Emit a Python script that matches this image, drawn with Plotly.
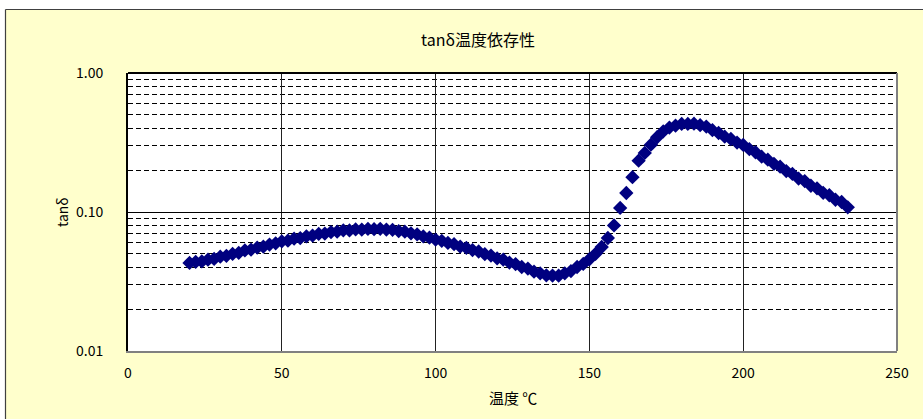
import plotly.graph_objects as go

# ---- data ----
temperature = [20, 22, 24, 26, 28, 30, 32, 34, 36, 38, 40, 42, 44, 46, 48, 50,
               52, 54, 56, 58, 60, 62, 64, 66, 68, 70, 72, 74, 76, 78, 80, 82,
               84, 86, 88, 90, 92, 94, 96, 98, 100, 102, 104, 106, 108, 110, 112,
               114, 116, 118, 120, 122, 124, 126, 128, 130, 132, 134, 136, 138,
               140, 142, 144, 146, 148, 150, 152, 154, 156, 158, 160, 162, 164,
               166, 168, 170, 172, 174, 176, 178, 180, 182, 184, 186, 188, 190,
               192, 194, 196, 198, 200, 202, 204, 206, 208, 210, 212, 214, 216,
               218, 220, 222, 224, 226, 228, 230, 232, 234]
tan_delta = [0.0430, 0.0437, 0.0441, 0.0454, 0.0460, 0.0477, 0.0484, 0.0499,
             0.0508, 0.0529, 0.0536, 0.0554, 0.0563, 0.0583, 0.0595, 0.0615,
             0.0622, 0.0643, 0.0649, 0.0668, 0.0677, 0.0695, 0.0700, 0.0717,
             0.0722, 0.0738, 0.0737, 0.0749, 0.0747, 0.0756, 0.0752, 0.0757,
             0.0747, 0.0744, 0.0729, 0.0722, 0.0702, 0.0690, 0.0667, 0.0654,
             0.0632, 0.0620, 0.0599, 0.0587, 0.0564, 0.0552, 0.0532, 0.0520,
             0.0497, 0.0486, 0.0464, 0.0454, 0.0433, 0.0422, 0.0402, 0.0392,
             0.0372, 0.0362, 0.0350, 0.0349, 0.0348, 0.0362, 0.0376, 0.0402,
             0.0423, 0.0457, 0.0500, 0.0560, 0.0650, 0.0800, 0.1070, 0.1370,
             0.1780, 0.2340, 0.2660, 0.3050, 0.3450, 0.3800, 0.4050, 0.4180,
             0.4300, 0.4300, 0.4320, 0.4210, 0.4120, 0.3880, 0.3700, 0.3480,
             0.3350, 0.3160, 0.3040, 0.2830, 0.2690, 0.2500, 0.2380, 0.2220,
             0.2120, 0.1970, 0.1880, 0.1740, 0.1670, 0.1545, 0.1480, 0.1375,
             0.1320, 0.1225, 0.1180, 0.1080]

x_ticks = [0, 50, 100, 150, 200, 250]
y_ticks = [0.01, 0.1, 1.0]
y_tick_text = ["0.01", "0.10", "1.00"]
y_minor = [0.02, 0.03, 0.04, 0.05, 0.06, 0.07, 0.08, 0.09,
           0.2, 0.3, 0.4, 0.5, 0.6, 0.7, 0.8, 0.9]

title_text = "tanδ温度依存性"
x_title = "温度 ℃"
y_title = "tanδ"

FONT = "Noto Sans CJK JP, Noto Sans, sans-serif"

fig = go.Figure()
fig.add_trace(go.Scatter(
    x=temperature, y=tan_delta, mode="markers",
    marker=dict(symbol="diamond", size=11, color="#000080",
                line=dict(width=0)),
    showlegend=False, hoverinfo="x+y"))

W, H = 923, 419
L, R, T, B = 128, 26, 73, 68
pw, ph = W - L - R, H - T - B


def px_x(p):
    return (p - L) / pw


def px_y(p):
    return (H - B - p) / ph


fig.update_layout(
    width=W, height=H,
    margin=dict(l=L, r=R, t=T, b=B, pad=0),
    paper_bgcolor="#FFFFCC",
    plot_bgcolor="white",
    font=dict(family=FONT, size=14, color="black"),
    title=dict(text=title_text, x=478 / W, xref="container", xanchor="center",
               y=1 - 40 / H, yref="container", yanchor="middle",
               font=dict(family=FONT, size=16, color="black")),
    xaxis=dict(range=[0, 250], tickvals=x_ticks, showgrid=True,
               gridcolor="#222222", gridwidth=1, zeroline=False,
               showline=True, linecolor="#808080", linewidth=2,
               ticks="", ticklabelstandoff=8,
               tickfont=dict(family=FONT, size=14)),
    yaxis=dict(type="log", range=[-2, 0], tickvals=y_ticks,
               ticktext=y_tick_text, showgrid=True, gridcolor="black",
               gridwidth=1, zeroline=False, showline=True,
               linecolor="black", linewidth=2, ticks="",
               ticklabelstandoff=20,
               tickfont=dict(family=FONT, size=14),
               minor=dict(tickvals=y_minor, showgrid=True,
                          gridcolor="black", gridwidth=1,
                          griddash="5px,3px", ticks="")),
    annotations=[
        dict(text=y_title, x=px_x(62), y=0.5, xref="paper", yref="paper",
             textangle=-90, showarrow=False, xanchor="center",
             yanchor="middle", font=dict(family=FONT, size=14)),
        dict(text=x_title, x=0.5, y=px_y(397), xref="paper", yref="paper",
             showarrow=False, xanchor="center", yanchor="middle",
             font=dict(family=FONT, size=15)),
    ],
    shapes=[
        # white area outside the chart frame (top and left)
        dict(type="rect", xref="paper", yref="paper", x0=px_x(-5),
             x1=px_x(5), y0=px_y(430), y1=px_y(-5), fillcolor="white",
             line=dict(width=0), layer="below"),
        dict(type="rect", xref="paper", yref="paper", x0=px_x(-5),
             x1=px_x(930), y0=px_y(9), y1=px_y(-5), fillcolor="white",
             line=dict(width=0), layer="below"),
        # chart frame
        dict(type="line", xref="paper", yref="paper", x0=px_x(5.5),
             x1=px_x(930), y0=px_y(9.5), y1=px_y(9.5),
             line=dict(color="#404040", width=1.2)),
        dict(type="line", xref="paper", yref="paper", x0=px_x(5.5),
             x1=px_x(5.5), y0=px_y(9.5), y1=px_y(430),
             line=dict(color="#404040", width=1.2)),
        # plot area top (black) and right (gray) borders
        dict(type="line", xref="paper", yref="paper", x0=0, x1=1, y0=1,
             y1=1, line=dict(color="black", width=2)),
        dict(type="line", xref="paper", yref="paper", x0=1, x1=1, y0=0,
             y1=1, line=dict(color="#808080", width=2)),
    ],
)

fig.write_html("out.html",
               config={"displayModeBar": False},
               post_script="document.body.style.margin='0';"
                           "document.body.style.padding='0';")
